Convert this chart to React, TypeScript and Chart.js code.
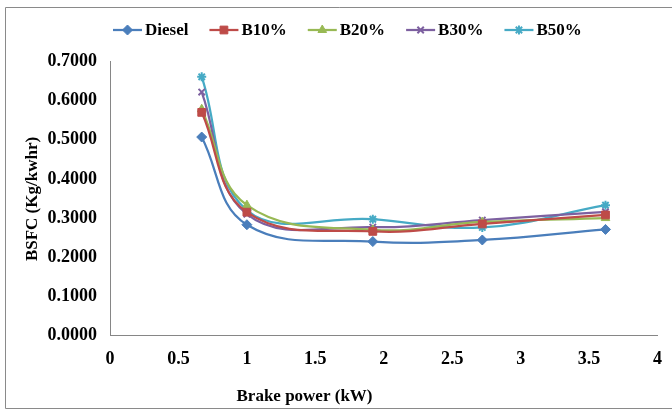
import { useEffect, useRef } from "react";
import { Chart, registerables } from "chart.js";
import { drawPoint } from "chart.js/helpers";

Chart.register(...registerables);

// Brake power (kW) at each test load
const brakePower = [0.67, 1.0, 1.92, 2.72, 3.62];

// BSFC (Kg/kwhr) for each fuel blend
const diesel = [0.507, 0.283, 0.24, 0.244, 0.271];
const b10 = [0.57, 0.315, 0.266, 0.285, 0.308];
const b20 = [0.578, 0.333, 0.27, 0.29, 0.3];
const b30 = [0.622, 0.31, 0.277, 0.295, 0.316];
const b50 = [0.661, 0.32, 0.297, 0.276, 0.333];

const seriesNames = ["Diesel", "B10%", "B20%", "B30%", "B50%"];
const seriesValues = [diesel, b10, b20, b30, b50];
const seriesColors = ["#4A7EBB", "#BE4B48", "#98B954", "#7D60A0", "#46AAC5"];
const markerStyles = ["rectRot", "rect", "triangle", "crossRot", "star"];
const markerRadius = [5, 5.5, 5, 4.5, 4.5];

const xTitle = "Brake power (kW)";
const yTitle = "BSFC (Kg/kwhr)";

const FONT = "'Times New Roman', 'Liberation Serif', serif";

const decorations = {
  id: "decorations",
  afterDraw(chart: any) {
    const ctx: CanvasRenderingContext2D = chart.ctx;
    ctx.save();

    // outer frame
    ctx.strokeStyle = "#8a8a8a";
    ctx.lineWidth = 1;
    ctx.beginPath();
    ctx.moveTo(673, 7.5);
    ctx.lineTo(5.5, 7.5);
    ctx.lineTo(5.5, 408.5);
    ctx.lineTo(673, 408.5);
    ctx.stroke();

    // legend: line sample with marker, then label
    ctx.font = `bold 17px ${FONT}`;
    ctx.textBaseline = "middle";
    ctx.textAlign = "left";
    let x = 113;
    const y = 30;
    chart.data.datasets.forEach((ds: any) => {
      ctx.strokeStyle = ds.borderColor;
      ctx.fillStyle = ds.borderColor;
      ctx.lineWidth = 2.25;
      ctx.beginPath();
      ctx.moveTo(x, y);
      ctx.lineTo(x + 29, y);
      ctx.stroke();
      ctx.lineWidth = ds.pointBorderWidth;
      drawPoint(
        ctx,
        { pointStyle: ds.pointStyle, radius: ds.pointRadius, borderWidth: ds.pointBorderWidth, rotation: 0 } as any,
        x + 14.5,
        y
      );
      ctx.fillStyle = "#000";
      ctx.fillText(ds.label, x + 32, y + 1);
      x += 32 + ctx.measureText(ds.label).width + 21;
    });

    // axis titles
    ctx.fillStyle = "#000";
    ctx.textAlign = "center";
    ctx.fillText(xTitle, 304.5, 397);
    ctx.translate(33, 199);
    ctx.rotate(-Math.PI / 2);
    ctx.fillText(yTitle, 0, 0);

    ctx.restore();
  },
};

export default function App() {
  const canvasRef = useRef<HTMLCanvasElement | null>(null);

  useEffect(() => {
    document.body.style.margin = "0";
    const canvas = canvasRef.current;
    if (!canvas) return;

    const tickFont = { family: FONT, size: 18, weight: "bold" as const };

    const chart = new Chart(canvas, {
      type: "line",
      data: {
        datasets: seriesNames.map((name, i) => ({
          label: name,
          data: brakePower.map((p, j) => ({ x: p, y: seriesValues[i][j] })),
          borderColor: seriesColors[i],
          backgroundColor: seriesColors[i],
          borderWidth: 2.25,
          pointStyle: markerStyles[i] as any,
          pointRadius: markerRadius[i],
          pointBorderWidth: markerStyles[i] === "crossRot" || markerStyles[i] === "star" ? 2 : 1,
          pointBackgroundColor: seriesColors[i],
          pointBorderColor: seriesColors[i],
          tension: 0.4,
          fill: false,
        })),
      },
      plugins: [decorations],
      options: {
        responsive: false,
        animation: false,
        devicePixelRatio: 1,
        layout: { padding: { top: 61.5, right: 14.5, left: 0, bottom: 0 } },
        plugins: {
          legend: { display: false },
          title: { display: false },
          tooltip: { enabled: false },
        },
        scales: {
          x: {
            type: "linear",
            min: 0,
            max: 4,
            ticks: {
              stepSize: 0.5,
              color: "#000",
              font: tickFont,
              padding: 13,
              maxRotation: 0,
              callback: (v: any) => String(Math.round(Number(v) * 10) / 10),
            },
            grid: { drawOnChartArea: false, drawTicks: false },
            border: { color: "#868686", width: 1 },
            afterFit: (s: any) => {
              s.height = 74.5;
              s.paddingLeft = 0;
              s.paddingRight = 0;
            },
          },
          y: {
            type: "linear",
            min: 0,
            max: 0.7,
            ticks: {
              stepSize: 0.1,
              color: "#000",
              font: tickFont,
              padding: 13,
              callback: (v: any) => Number(v).toFixed(4),
            },
            grid: { drawOnChartArea: false, drawTicks: false },
            border: { color: "#868686", width: 1 },
            afterFit: (s: any) => {
              s.width = 110;
            },
          },
        },
      },
    });

    return () => chart.destroy();
  }, []);

  return <canvas ref={canvasRef} width={672} height={410} style={{ display: "block", width: 672, height: 410 }} />;
}
